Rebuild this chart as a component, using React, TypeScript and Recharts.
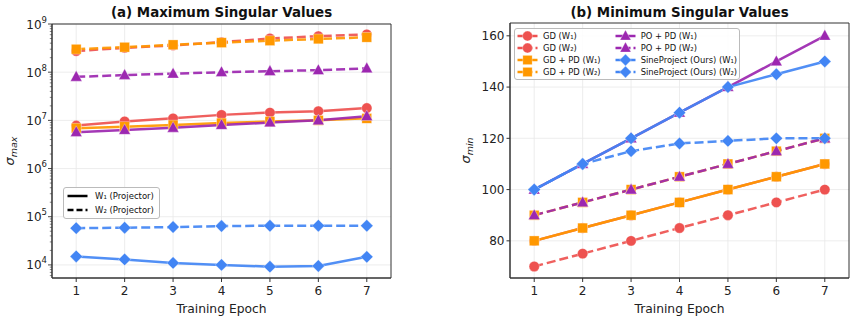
import React from 'react';
import { LineChart, Line, XAxis, YAxis, CartesianGrid, ReferenceArea } from 'recharts';

// ---------- data ----------
const epochs = [1, 2, 3, 4, 5, 6, 7];

// (a) maximum singular values
const maxGdW1 = [7.8e6, 9.5e6, 1.1e7, 1.3e7, 1.45e7, 1.55e7, 1.8e7];
const maxGdW2 = [2.75e8, 3.2e8, 3.6e8, 4.2e8, 5.0e8, 5.6e8, 6.1e8];
const maxGdPdW1 = [6.9e6, 7.4e6, 8.0e6, 8.8e6, 9.5e6, 1.0e7, 1.1e7];
const maxGdPdW2 = [3.0e8, 3.3e8, 3.7e8, 4.1e8, 4.5e8, 4.9e8, 5.3e8];
const maxPoPdW1 = [5.7e6, 6.3e6, 7.0e6, 8.0e6, 9.0e6, 1.0e7, 1.22e7];
const maxPoPdW2 = [8.0e7, 8.7e7, 9.3e7, 1.0e8, 1.05e8, 1.1e8, 1.2e8];
const maxSineW1 = [1.5e4, 1.3e4, 1.1e4, 1.0e4, 9.2e3, 9.5e3, 1.47e4];
const maxSineW2 = [5.8e4, 5.9e4, 6.1e4, 6.4e4, 6.5e4, 6.5e4, 6.5e4];

// (b) minimum singular values
const minGdW1 = [80, 85, 90, 95, 100, 105, 110];
const minGdW2 = [70, 75, 80, 85, 90, 95, 100];
const minGdPdW1 = [80, 85, 90, 95, 100, 105, 110];
const minGdPdW2 = [90, 95, 100, 105, 110, 115, 120];
const minPoPdW1 = [100, 110, 120, 130, 140, 150, 160];
const minPoPdW2 = [90, 95, 100, 105, 110, 115, 120];
const minSineW1 = [100, 110, 120, 130, 140, 145, 150];
const minSineW2 = [100, 110, 115, 118, 119, 120, 120];

const logMajorTicks = [1e4, 1e5, 1e6, 1e7, 1e8, 1e9];
const linTicks = [80, 100, 120, 140, 160];

const titleA = '(a) Maximum Singular Values';
const titleB = '(b) Minimum Singular Values';
const xLabel = 'Training Epoch';
const projectorLabels = ['W₁ (Projector)', 'W₂ (Projector)'];

// ---------- series definitions ----------
type Shape = 'circle' | 'square' | 'triangle' | 'diamond';
const RED = '#EE5250';
const ORANGE = '#FF9800';
const PURPLE = '#9C27B0';
const BLUE = '#4285F4';

const seriesDefs = [
  { key: 'gdW1', name: 'GD (W₁)', color: RED, shape: 'circle' as Shape, dashed: false },
  { key: 'gdW2', name: 'GD (W₂)', color: RED, shape: 'circle' as Shape, dashed: true },
  { key: 'gdPdW1', name: 'GD + PD (W₁)', color: ORANGE, shape: 'square' as Shape, dashed: false },
  { key: 'gdPdW2', name: 'GD + PD (W₂)', color: ORANGE, shape: 'square' as Shape, dashed: true },
  { key: 'poPdW1', name: 'PO + PD (W₁)', color: PURPLE, shape: 'triangle' as Shape, dashed: false },
  { key: 'poPdW2', name: 'PO + PD (W₂)', color: PURPLE, shape: 'triangle' as Shape, dashed: true },
  { key: 'sineW1', name: 'SineProject (Ours) (W₁)', color: BLUE, shape: 'diamond' as Shape, dashed: false },
  { key: 'sineW2', name: 'SineProject (Ours) (W₂)', color: BLUE, shape: 'diamond' as Shape, dashed: true },
];

const maxData = epochs.map((e, i) => ({
  epoch: e,
  gdW1: maxGdW1[i], gdW2: maxGdW2[i], gdPdW1: maxGdPdW1[i], gdPdW2: maxGdPdW2[i],
  poPdW1: maxPoPdW1[i], poPdW2: maxPoPdW2[i], sineW1: maxSineW1[i], sineW2: maxSineW2[i],
}));
const minData = epochs.map((e, i) => ({
  epoch: e,
  gdW1: minGdW1[i], gdW2: minGdW2[i], gdPdW1: minGdPdW1[i], gdPdW2: minGdPdW2[i],
  poPdW1: minPoPdW1[i], poPdW2: minPoPdW2[i], sineW1: minSineW1[i], sineW2: minSineW2[i],
}));

// minor + major ticks for the log axis
const logAllTicks: number[] = [];
for (let d = 3; d <= 8; d++) {
  for (let m = 1; m <= 9; m++) {
    const v = m * Math.pow(10, d);
    if (v >= 5400 && v <= 1e9) logAllTicks.push(v);
  }
}
logAllTicks.push(1e9);

const FONT = "'DejaVu Sans', sans-serif";
const DASH = '9 4';

const MarkerShape = ({ shape, cx, cy, color, size = 1 }: any) => {
  if (cx == null || cy == null) return null;
  const s = size;
  const common = { fill: color, stroke: '#ffffff', strokeOpacity: 0.55, strokeWidth: 0.6 };
  if (shape === 'circle') return <circle cx={cx} cy={cy} r={5.2 * s} {...common} />;
  if (shape === 'square') {
    const h = 4.9 * s;
    return <rect x={cx - h} y={cy - h} width={2 * h} height={2 * h} {...common} />;
  }
  if (shape === 'triangle') {
    const pts = `${cx},${cy - 6.3 * s} ${cx - 5.8 * s},${cy + 4.3 * s} ${cx + 5.8 * s},${cy + 4.3 * s}`;
    return <polygon points={pts} {...common} />;
  }
  const r = 6.2 * s;
  const pts = `${cx},${cy - r} ${cx + r},${cy} ${cx},${cy + r} ${cx - r},${cy}`;
  return <polygon points={pts} {...common} />;
};

const makeDot = (shape: Shape, color: string) => (p: any) => (
  <MarkerShape key={`d-${p.index}`} shape={shape} cx={p.cx} cy={p.cy} color={color} />
);

const TICK_SIZE = 4;
const TICK_MARGIN = 4;

const LogTick = (props: any) => {
  const { x, y, payload } = props;
  const v = payload.value;
  const lg = Math.log10(v);
  const exp = Math.round(lg);
  const isMajor = Math.abs(lg - exp) < 1e-6;
  const ax = x + TICK_SIZE + TICK_MARGIN;
  return (
    <g>
      <line x1={ax} x2={ax - (isMajor ? 4 : 2.2)} y1={y} y2={y} stroke="#333" strokeWidth={isMajor ? 0.9 : 0.6} />
      {isMajor && (
        <text x={ax - 5} y={y + 4.5} textAnchor="end" fontFamily={FONT} fontSize={12} fill="#222">
          10<tspan dy={-6} fontSize={8.5}>{exp}</tspan>
        </text>
      )}
    </g>
  );
};

const YLabel = ({ sub, dx }: { sub: string; dx: number }) => (p: any) => {
  const vb = p.viewBox || {};
  const cx = (vb.x || 0) + dx;
  const cy = (vb.y || 0) + (vb.height || 0) / 2;
  return (
    <text
      x={cx}
      y={cy}
      transform={`rotate(-90, ${cx}, ${cy})`}
      textAnchor="middle"
      fontFamily={FONT}
      fontStyle="italic"
      fontSize={13}
      fill="#222"
    >
      σ<tspan dy={3} fontSize={9.5}>{sub}</tspan>
    </text>
  );
};

const LineSample = ({ dashed, shape, color }: any) => (
  <svg width={21} height={12} style={{ display: 'block', flex: 'none' }}>
    <line x1={0.5} x2={20.5} y1={6} y2={6} stroke={color} strokeWidth={2.5} strokeDasharray={dashed ? '6 3' : undefined} />
    {shape && <MarkerShape shape={shape} cx={10.5} cy={6} color={color} size={0.95} />}
  </svg>
);

const LeftLegend = () => (
  <div
    style={{
      position: 'absolute', left: 63, top: 187,
      border: '1px solid #bbb', borderRadius: 3, background: 'rgba(255,255,255,0.85)',
      padding: '1px 5px 1px 3px', fontFamily: FONT, fontSize: 8.5, color: '#111',
    }}
  >
    {projectorLabels.map((label, i) => (
      <div key={label} style={{ display: 'flex', alignItems: 'center', gap: 7, height: 13.8 }}>
        <LineSample dashed={i === 1} color="#000" />
        <span style={{ whiteSpace: 'nowrap' }}>{label}</span>
      </div>
    ))}
  </div>
);

const RightLegend = () => {
  const col1 = seriesDefs.slice(0, 4);
  const col2 = seriesDefs.slice(4);
  const renderCol = (items: typeof seriesDefs) => (
    <div style={{ display: 'flex', flexDirection: 'column' }}>
      {items.map((s) => (
        <div key={s.key} style={{ display: 'flex', alignItems: 'center', gap: 5, height: 12.2 }}>
          <LineSample dashed={s.dashed} shape={s.shape} color={s.color} />
          <span style={{ whiteSpace: 'nowrap' }}>{s.name}</span>
        </div>
      ))}
    </div>
  );
  return (
    <div
      style={{
        position: 'absolute', left: 514, top: 28,
        display: 'flex', gap: 14, border: '1px solid #bbb', borderRadius: 3,
        background: 'rgba(255,255,255,0.85)', padding: '0.5px 2px 0.5px 2px',
        fontFamily: FONT, fontSize: 8.4, color: '#111',
      }}
    >
      {renderCol(col1)}
      {renderCol(col2)}
    </div>
  );
};

const renderLines = () =>
  seriesDefs.map((s) => (
    <Line
      key={s.key}
      dataKey={s.key}
      name={s.name}
      stroke={s.color}
      strokeWidth={2.5}
      strokeOpacity={0.92}
      strokeDasharray={s.dashed ? DASH : undefined}
      dot={makeDot(s.shape, s.color)}
      activeDot={false}
      isAnimationActive={false}
      legendType="none"
    />
  ));

const axisTickStyle = { fontFamily: FONT, fontSize: 12, fill: '#222' };
const titleStyle: React.CSSProperties = {
  position: 'absolute', width: 339, top: 5, textAlign: 'center',
  fontFamily: FONT, fontWeight: 'bold', fontSize: 13.4, color: '#111', lineHeight: '16px',
};

export default function App() {
  return (
    <div style={{ position: 'absolute', left: 0, top: 0, width: 857, height: 321, background: '#fff' }}>
      <div style={{ position: 'absolute', left: 0, top: 0 }}>
        <LineChart width={430} height={321} data={maxData} margin={{ top: 24, right: 39, bottom: 0, left: 0 }}>
          <CartesianGrid stroke="#e8e8e8" strokeWidth={0.8} horizontalValues={logMajorTicks} verticalValues={epochs} />
          <XAxis
            dataKey="epoch"
            type="number"
            domain={[0.5, 7.5]}
            ticks={epochs}
            height={43}
            tick={axisTickStyle}
            tickSize={TICK_SIZE}
            tickMargin={TICK_MARGIN}
            stroke="#333"
            label={{ value: xLabel, position: 'insideBottom', offset: 8, style: { fontFamily: FONT, fontSize: 12.3, fill: '#222' } }}
          />
          <YAxis
            scale="log"
            domain={[5350, 1e9]}
            allowDataOverflow
            ticks={logAllTicks}
            interval={0}
            width={52}
            tick={<LogTick />}
            tickLine={false}
            tickSize={TICK_SIZE}
            tickMargin={TICK_MARGIN}
            stroke="#333"
            label={YLabel({ sub: 'max', dx: 14 })}
          />
          <ReferenceArea x1={0.5} x2={7.5} y1={5350} y2={1e9} fill="none" stroke="#333" strokeWidth={1} />
          {renderLines()}
        </LineChart>
      </div>

      <div style={{ position: 'absolute', left: 430, top: 0 }}>
        <LineChart width={427} height={321} data={minData} margin={{ top: 23, right: 8, bottom: 0, left: 0 }}>
          <CartesianGrid stroke="#e8e8e8" strokeWidth={0.8} horizontalValues={linTicks} verticalValues={epochs} />
          <XAxis
            dataKey="epoch"
            type="number"
            domain={[0.5, 7.5]}
            ticks={epochs}
            height={43}
            tick={axisTickStyle}
            tickSize={TICK_SIZE}
            tickMargin={TICK_MARGIN}
            stroke="#333"
            label={{ value: xLabel, position: 'insideBottom', offset: 8, style: { fontFamily: FONT, fontSize: 12.3, fill: '#222' } }}
          />
          <YAxis
            domain={[65.5, 165]}
            allowDataOverflow
            ticks={linTicks}
            width={80}
            tick={axisTickStyle}
            tickSize={3.5}
            tickMargin={2}
            stroke="#333"
            label={YLabel({ sub: 'min', dx: 40 })}
          />
          <ReferenceArea x1={0.5} x2={7.5} y1={65.5} y2={165} fill="none" stroke="#333" strokeWidth={1} />
          {renderLines()}
        </LineChart>
      </div>

      <div style={{ ...titleStyle, left: 52 }}>{titleA}</div>
      <div style={{ ...titleStyle, left: 510 }}>{titleB}</div>
      <LeftLegend />
      <RightLegend />
    </div>
  );
}
